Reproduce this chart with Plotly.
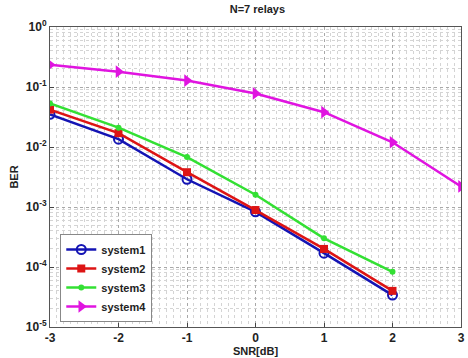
import plotly.graph_objects as go

snr = [-3, -2, -1, 0, 1, 2]
snr4 = [-3, -2, -1, 0, 1, 2, 3]
system1 = [0.035, 0.0135, 0.0029, 0.00083, 0.00017, 3.4e-5]
system2 = [0.042, 0.017, 0.0038, 0.00089, 0.00020, 4.0e-5]
system3 = [0.053, 0.021, 0.0068, 0.0016, 0.00030, 8.3e-5]
system4 = [0.235, 0.18, 0.128, 0.078, 0.038, 0.012, 0.0022]

x_ticks = [-3, -2, -1, 0, 1, 2, 3]
x_ticktext = ["<b>-3</b>", "<b>-2</b>", "<b>-1</b>", "<b>0</b>", "<b>1</b>", "<b>2</b>", "<b>3</b>"]
y_tickvals = [1, 0.1, 0.01, 0.001, 0.0001, 0.00001]
y_ticktext = ["<b>10<sup>0</sup></b>", "<b>10<sup>-1</sup></b>", "<b>10<sup>-2</sup></b>",
              "<b>10<sup>-3</sup></b>", "<b>10<sup>-4</sup></b>", "<b>10<sup>-5</sup></b>"]
names = ["<b>system1</b>", "<b>system2</b>", "<b>system3</b>", "<b>system4</b>"]

fig = go.Figure()
fig.add_trace(go.Scatter(x=snr, y=system1, name=names[0], mode="lines+markers",
                         line=dict(color="#1414b4", width=2.5),
                         marker=dict(symbol="circle-open", size=9, color="#1414b4", line=dict(width=2))))
fig.add_trace(go.Scatter(x=snr, y=system2, name=names[1], mode="lines+markers",
                         line=dict(color="#dd1414", width=2.5),
                         marker=dict(symbol="square", size=8, color="#dd1414")))
fig.add_trace(go.Scatter(x=snr, y=system3, name=names[2], mode="lines+markers",
                         line=dict(color="#33e033", width=2.5),
                         marker=dict(symbol="circle", size=6, color="#33e033")))
fig.add_trace(go.Scatter(x=snr4, y=system4, name=names[3], mode="lines+markers",
                         line=dict(color="#e014e0", width=2.5),
                         marker=dict(symbol="triangle-right", size=11, color="#e014e0")))

grid_col = "#a8a8a8"
minor_col = "#d4d4d4"
fig.update_layout(
    width=468, height=358,
    margin=dict(l=50, r=3, t=27, b=29),
    paper_bgcolor="white", plot_bgcolor="white",
    font=dict(family="Liberation Sans, Arial", size=11, color="#222"),
    title=dict(text="<b>N=7 relays</b>", x=0.55, xanchor="center", y=0.975, yanchor="middle",
               font=dict(size=11, color="#222")),
    showlegend=True,
    legend=dict(x=0.025, y=0.31, xanchor="left", yanchor="top",
                bgcolor="white", bordercolor="#888", borderwidth=1,
                font=dict(size=11, color="#222", family="Liberation Sans, Arial"),
                tracegroupgap=0, itemwidth=30),
    xaxis=dict(range=[-3, 3], tickvals=x_ticks, ticktext=x_ticktext, ticks="inside", ticklen=4,
               showline=True, linecolor="#555", mirror=True,
               showgrid=True, gridcolor=grid_col, griddash="dot", gridwidth=1,
               minor=dict(dtick=0.1, showgrid=True, gridcolor=minor_col, griddash="dot", ticks=""),
               zeroline=False,
               tickfont=dict(size=12, color="#222"),
               title=dict(text="<b>SNR[dB]</b>", standoff=2, font=dict(size=11, color="#222"))),
    yaxis=dict(type="log", range=[-5, 0], tickvals=y_tickvals, ticktext=y_ticktext,
               ticks="inside", ticklen=4,
               showline=True, linecolor="#555", mirror=True,
               showgrid=True, gridcolor=grid_col, griddash="dot", gridwidth=1,
               minor=dict(dtick="D1", showgrid=True, gridcolor=minor_col, griddash="dot", ticks=""),
               zeroline=False,
               tickfont=dict(size=12, color="#222"),
               title=dict(text="<b>BER</b>", standoff=4, font=dict(size=11, color="#222"))),
)

fig.write_html("out.html")
